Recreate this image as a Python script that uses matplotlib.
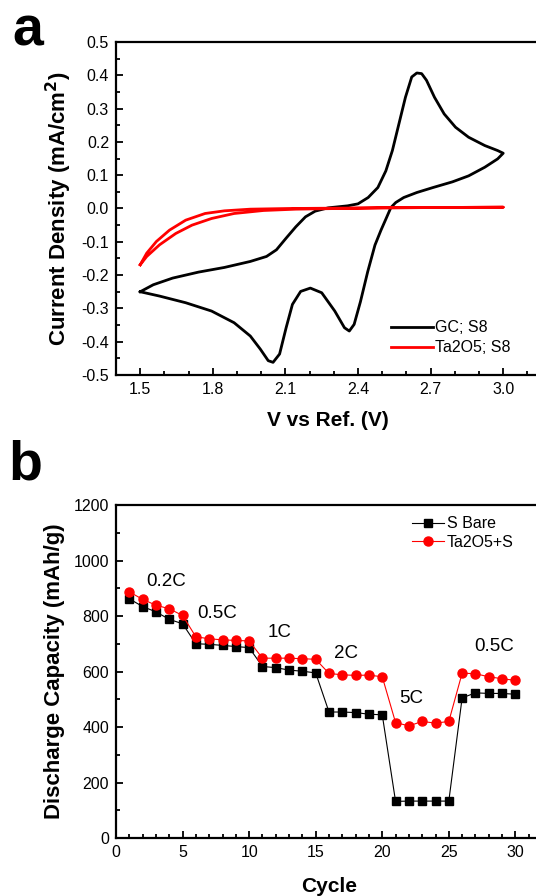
import matplotlib
matplotlib.use("Agg")
import matplotlib.pyplot as plt
from matplotlib.ticker import MultipleLocator

plt.rcParams['font.family'] = ['Liberation Sans', 'DejaVu Sans']

# ---------------- Panel a data (CV) ----------------
# GC; S8 : anodic sweep 1.5 -> 3.0, then cathodic sweep 3.0 -> 1.5
gc_v = [1.500, 1.554, 1.634, 1.741, 1.848, 1.955, 2.022, 2.063, 2.103, 2.143, 2.183, 2.223,
        2.277, 2.357, 2.400, 2.442, 2.482, 2.515, 2.542, 2.569, 2.596, 2.622, 2.643, 2.663,
        2.683, 2.716, 2.756, 2.803, 2.857, 2.924, 2.977, 3.000,
        2.977, 2.924, 2.857, 2.790, 2.710, 2.643, 2.589, 2.556, 2.536, 2.515, 2.495, 2.470,
        2.440, 2.410, 2.384, 2.364, 2.344, 2.304, 2.250, 2.203, 2.163, 2.129, 2.103, 2.076,
        2.049, 2.029, 1.996, 1.955, 1.888, 1.795, 1.688, 1.580, 1.500]
gc_i = [-0.250, -0.229, -0.209, -0.191, -0.177, -0.159, -0.144, -0.124, -0.089, -0.055, -0.025, -0.008,
        0.002, 0.008, 0.014, 0.033, 0.063, 0.113, 0.174, 0.254, 0.334, 0.395, 0.407, 0.405,
        0.385, 0.334, 0.284, 0.244, 0.214, 0.189, 0.174, 0.166,
        0.149, 0.124, 0.098, 0.080, 0.063, 0.048, 0.033, 0.018, 0.003, -0.032, -0.065, -0.110,
        -0.190, -0.280, -0.348, -0.368, -0.358, -0.308, -0.253, -0.239, -0.249, -0.288, -0.358, -0.437,
        -0.462, -0.457, -0.422, -0.383, -0.343, -0.308, -0.283, -0.263, -0.250]

ta_v = [1.500, 1.527, 1.567, 1.621, 1.688, 1.768, 1.848, 1.955, 2.116, 2.500, 3.000,
        2.500, 2.143, 2.009, 1.888, 1.795, 1.714, 1.647, 1.580, 1.527, 1.500]
ta_i = [-0.169, -0.134, -0.099, -0.065, -0.035, -0.015, -0.007, -0.002, 0.000, 0.002, 0.004,
        0.002, -0.002, -0.006, -0.015, -0.030, -0.050, -0.075, -0.109, -0.144, -0.169]

# ---------------- Panel b data (rate capability) ----------------
cycles = list(range(1, 31))
s_bare = [862, 834, 815, 788, 772, 700, 698, 694, 690, 686,
          618, 614, 605, 601, 595, 454, 454, 452, 446, 444,
          132, 133, 133, 133, 133, 505, 523, 521, 521, 518]
ta2o5_s = [887, 860, 839, 826, 802, 725, 718, 714, 712, 710,
           648, 648, 648, 646, 644, 593, 588, 586, 587, 581,
           416, 404, 420, 414, 420, 594, 592, 581, 574, 568]
rate_labels = ["0.2C", "0.5C", "1C", "2C", "5C", "0.5C"]
rate_x = [3.8, 7.6, 12.3, 17.3, 22.2, 28.4]
rate_y = [924, 810, 740, 666, 504, 690]

W, H = 536, 896
fig = plt.figure(figsize=(W / 100, H / 100), dpi=100)

def style(ax):
    for s in ax.spines.values():
        s.set_linewidth(1.6)
    ax.tick_params(which='both', direction='in', top=False, right=False,
                   labelsize=11.5, width=1.3, pad=5)
    ax.tick_params(which='major', length=5)
    ax.tick_params(which='minor', length=3)

# Panel a
axa = fig.add_axes([116 / W, (H - 375) / H, 424 / W, 333 / H])
axa.plot(gc_v, gc_i, color='black', lw=2, label='GC; S8')
axa.plot(ta_v, ta_i, color='#ff0000', lw=2, label='Ta2O5; S8')
axa.set_xlim(1.4, 3.152)
axa.set_ylim(-0.5, 0.5)
axa.xaxis.set_minor_locator(MultipleLocator(0.1))
axa.yaxis.set_minor_locator(MultipleLocator(0.05))
axa.set_xticks([1.5, 1.8, 2.1, 2.4, 2.7, 3.0])
axa.set_xticklabels(["1.5", "1.8", "2.1", "2.4", "2.7", "3.0"])
axa.set_yticks([0.5, 0.4, 0.3, 0.2, 0.1, 0.0, -0.1, -0.2, -0.3, -0.4, -0.5])
axa.set_yticklabels(["0.5", "0.4", "0.3", "0.2", "0.1", "0.0", "-0.1", "-0.2", "-0.3", "-0.4", "-0.5"])
style(axa)
axa.set_xlabel("V vs Ref. (V)", fontsize=15, fontweight='bold', labelpad=10)
axa.set_ylabel("Current Density (mA/cm$\\mathbf{^2}$)", fontsize=16, fontweight='bold', labelpad=5)
axa.legend(loc='lower right', bbox_to_anchor=((517 - 116) / 424, 0.04), frameon=False,
           fontsize=11.5, handlelength=2.6, handletextpad=0.15, labelspacing=0.3,
           borderaxespad=0.0)
fig.text(12 / W, 1 - 31 / H, "a", fontsize=40, fontweight='bold', va='center', ha='left')

# Panel b
axb = fig.add_axes([116 / W, (H - 838) / H, 426 / W, 333 / H])
axb.plot(cycles, s_bare, color='black', lw=0.8, marker='s', ms=6, label='S Bare')
axb.plot(cycles, ta2o5_s, color='#ff0000', lw=0.8, marker='o', ms=6.5, label='Ta2O5+S')
axb.set_xlim(0, 32)
axb.set_ylim(0, 1200)
axb.xaxis.set_major_locator(MultipleLocator(5))
axb.xaxis.set_minor_locator(MultipleLocator(1))
axb.yaxis.set_major_locator(MultipleLocator(200))
axb.yaxis.set_minor_locator(MultipleLocator(100))
style(axb)
axb.set_xlabel("Cycle", fontsize=15, fontweight='bold', labelpad=12)
axb.set_ylabel("Discharge Capacity (mAh/g)", fontsize=16, fontweight='bold', labelpad=6)
for t, x, y in zip(rate_labels, rate_x, rate_y):
    axb.text(x, y, t, fontsize=13.5, ha='center', va='center')
axb.legend(loc='upper right', bbox_to_anchor=((520 - 116) / 426, 0.985), frameon=False,
           fontsize=11.5, handlelength=2.0, handletextpad=0.2, labelspacing=0.2,
           borderaxespad=0.0)
fig.text(8 / W, 1 - 465 / H, "b", fontsize=40, fontweight='bold', va='center', ha='left')

fig.savefig("out.png", dpi=100)
